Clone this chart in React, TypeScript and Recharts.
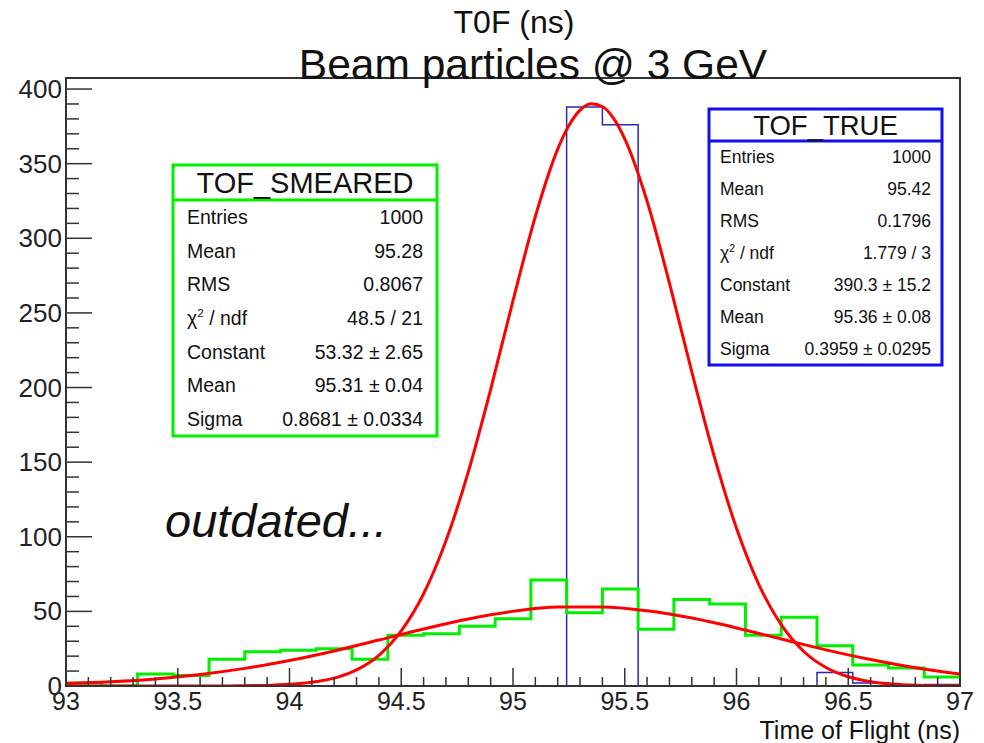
import React from 'react';
import { ComposedChart, Line, XAxis, YAxis, ReferenceArea } from 'recharts';

// histogram binning (25 bins of 0.16 ns)
const binEdges = [
  93, 93.16, 93.32, 93.48, 93.64, 93.8, 93.96, 94.12, 94.28, 94.44, 94.6, 94.76, 94.92,
  95.08, 95.24, 95.4, 95.56, 95.72, 95.88, 96.04, 96.2, 96.36, 96.52, 96.68, 96.84, 97,
];
const smearedCounts = [2, 0, 8, 7, 18, 23, 24, 25, 18, 34, 35, 40, 45, 71, 49, 65, 38, 58, 55, 34, 46, 27, 14, 12, 6];
const trueCounts = [0, 0, 0, 0, 0, 0, 0, 0, 0, 0, 0, 0, 0, 0, 388, 376, 0, 0, 0, 0, 0, 9, 2, 0, 1];

// gaus fit curves
const fitTrueX = [
  93, 93.1, 93.2, 93.3, 93.4, 93.5, 93.6, 93.7, 93.8, 93.9, 94, 94.1, 94.2, 94.3, 94.4, 94.5,
  94.6, 94.7, 94.8, 94.9, 95, 95.1, 95.2, 95.25, 95.3, 95.35, 95.4, 95.45, 95.5, 95.6, 95.7,
  95.8, 95.9, 96, 96.1, 96.2, 96.3, 96.4, 96.5, 96.6, 96.7, 96.8, 96.9, 97,
];
const fitTrueY = [
  0, 0, 0, 0, 0, 0, 0, 0, 0.2, 0.4, 1.1, 2.5, 5.3, 10.8, 20.6, 36.9,
  61.8, 97.3, 143.5, 198.7, 258.2, 314.6, 359.7, 375.5, 385.9, 390.2, 388.3, 380.3, 366.6, 324.8, 269.9,
  210.5, 154.0, 105.7, 68.0, 41.1, 23.3, 12.4, 6.2, 2.9, 1.3, 0.5, 0.2, 0.1,
];
const fitSmearX = [93, 93.2, 93.4, 93.6, 93.8, 94, 94.2, 94.4, 94.6, 94.8, 95, 95.2, 95.4, 95.6, 95.8, 96, 96.2, 96.4, 96.6, 96.8, 97];
const fitSmearY = [1.6, 2.8, 4.7, 7.7, 11.8, 17.1, 23.5, 30.8, 38.2, 44.9, 50.0, 52.9, 53.0, 50.4, 45.5, 38.9, 31.5, 24.2, 17.7, 12.2, 8.0];

const xTicks = [
  93, 93.1, 93.2, 93.3, 93.4, 93.5, 93.6, 93.7, 93.8, 93.9, 94, 94.1, 94.2, 94.3, 94.4, 94.5,
  94.6, 94.7, 94.8, 94.9, 95, 95.1, 95.2, 95.3, 95.4, 95.5, 95.6, 95.7, 95.8, 95.9, 96, 96.1,
  96.2, 96.3, 96.4, 96.5, 96.6, 96.7, 96.8, 96.9, 97,
];
const yTicks = [
  0, 10, 20, 30, 40, 50, 60, 70, 80, 90, 100, 110, 120, 130, 140, 150, 160, 170, 180, 190, 200,
  210, 220, 230, 240, 250, 260, 270, 280, 290, 300, 310, 320, 330, 340, 350, 360, 370, 380, 390, 400,
];
const Y_MAX = 407.4;

const smearedStats = [
  ['Entries', '1000'],
  ['Mean', '95.28'],
  ['RMS', '0.8067'],
  ['chi2', '48.5 / 21'],
  ['Constant', '53.32 ± 2.65'],
  ['Mean', '95.31 ± 0.04'],
  ['Sigma', '0.8681 ± 0.0334'],
];
const trueStats = [
  ['Entries', '1000'],
  ['Mean', '95.42'],
  ['RMS', '0.1796'],
  ['chi2', '1.779 / 3'],
  ['Constant', '390.3 ± 15.2'],
  ['Mean', '95.36 ± 0.08'],
  ['Sigma', '0.3959 ± 0.0295'],
];

const FONT = '"Liberation Sans", Arial, Helvetica, sans-serif';

const toSteps = (counts: number[]) =>
  binEdges.map((x, i) => ({ x, y: counts[Math.min(i, counts.length - 1)] }));
const toPoints = (xs: number[], ys: number[]) => xs.map((x, i) => ({ x, y: ys[i] }));

const smearedHist = toSteps(smearedCounts);
const trueHist = toSteps(trueCounts);
const trueFit = toPoints(fitTrueX, fitTrueY);
const smearFit = toPoints(fitSmearX, fitSmearY);

const XTick = (props: any) => {
  const { x, y, payload } = props;
  const v = payload.value as number;
  const major = Math.abs(v * 2 - Math.round(v * 2)) < 1e-6;
  return (
    <g>
      <line x1={x} x2={x} y1={y} y2={y - (major ? 18 : 9)} stroke="#333" strokeWidth={1.5} />
      {major && (
        <text x={x} y={y + 24} textAnchor="middle" fontSize={25} fill="#222" fontFamily={FONT}>
          {String(Number(v.toFixed(1)))}
        </text>
      )}
    </g>
  );
};

const YTick = (props: any) => {
  const { x, y, payload } = props;
  const v = payload.value as number;
  const major = v % 50 === 0;
  return (
    <g>
      <line x1={x} x2={x + (major ? 26 : 13)} y1={y} y2={y} stroke="#333" strokeWidth={1.5} />
      {major && (
        <text x={x - 4} y={y + 9} textAnchor="end" fontSize={26} fill="#222" fontFamily={FONT}>
          {v}
        </text>
      )}
    </g>
  );
};

interface StatBoxProps {
  x: number;
  y: number;
  w: number;
  h: number;
  head: number;
  title: string;
  titleSize: number;
  rows: string[][];
  size: number;
  color: string;
  pad: number;
}

const StatBox = ({ x, y, w, h, head, title, titleSize, rows, size, color, pad }: StatBoxProps) => {
  const rowH = (h - head) / rows.length;
  return (
    <g fontFamily={FONT} fill="#111">
      <rect x={x} y={y} width={w} height={h} fill="#fff" stroke={color} strokeWidth={3} />
      <line x1={x} x2={x + w} y1={y + head} y2={y + head} stroke={color} strokeWidth={3} />
      <text x={x + w / 2} y={y + head / 2 + titleSize * 0.36} textAnchor="middle" fontSize={titleSize}>
        {title}
      </text>
      {rows.map(([label, value], i) => {
        const cy = y + head + rowH * (i + 0.5) + size * 0.36;
        return (
          <g key={i}>
            {label === 'chi2' ? (
              <text x={x + pad} y={cy} fontSize={size}>
                χ<tspan dy={-size * 0.4} fontSize={size * 0.6}>2</tspan>
                <tspan dy={size * 0.4}> / ndf</tspan>
              </text>
            ) : (
              <text x={x + pad} y={cy} fontSize={size}>{label}</text>
            )}
            <text x={x + w - pad} y={cy} fontSize={size} textAnchor="end">{value}</text>
          </g>
        );
      })}
    </g>
  );
};

export default function App() {
  return (
    <div style={{ position: 'absolute', left: 0, top: 0, width: 984, height: 743, background: '#fff' }}>
      <ComposedChart width={984} height={743} margin={{ top: 78, right: 24, bottom: 56, left: 65 }}>
        <XAxis
          type="number"
          dataKey="x"
          domain={[93, 97]}
          ticks={xTicks}
          interval={0}
          tickSize={0}
          tickMargin={0}
          tickLine={false}
          tick={<XTick />}
          height={1}
          allowDataOverflow
          axisLine={{ stroke: '#333', strokeWidth: 2 }}
        />
        <YAxis
          type="number"
          dataKey="y"
          domain={[0, Y_MAX]}
          ticks={yTicks}
          interval={0}
          tickSize={0}
          tickMargin={0}
          tickLine={false}
          tick={<YTick />}
          width={1}
          allowDataOverflow
          axisLine={{ stroke: '#333', strokeWidth: 2 }}
        />
        <ReferenceArea x1={93} x2={97} y1={0} y2={Y_MAX} fill="none" stroke="#333" strokeWidth={2} />
        <Line data={trueHist} dataKey="y" type="stepAfter" stroke="#2a2ab4" strokeWidth={1.5} dot={false} activeDot={false} isAnimationActive={false} />
        <Line data={smearedHist} dataKey="y" type="stepAfter" stroke="#00f000" strokeWidth={3} dot={false} activeDot={false} isAnimationActive={false} />
        <Line data={trueFit} dataKey="y" type="monotone" stroke="#ff0000" strokeWidth={3} dot={false} activeDot={false} isAnimationActive={false} />
        <Line data={smearFit} dataKey="y" type="monotone" stroke="#ff0000" strokeWidth={3} dot={false} activeDot={false} isAnimationActive={false} />
      </ComposedChart>
      <svg width={984} height={743} style={{ position: 'absolute', left: 0, top: 0, pointerEvents: 'none' }}>
        <g fontFamily={FONT} fill="#111">
          <text x={514} y={33} textAnchor="middle" fontSize={32}>T0F (ns)</text>
          <text x={533} y={79} textAnchor="middle" fontSize={42.5}>Beam particles @ 3 GeV</text>
          <text x={165} y={537} fontSize={47} fontStyle="italic">outdated...</text>
          <text x={960} y={739} textAnchor="end" fontSize={25}>Time of Flight (ns)</text>
        </g>
        <StatBox x={173} y={165} w={264} h={271} head={35} title="TOF_SMEARED" titleSize={29}
          rows={smearedStats} size={19.5} color="#00f000" pad={14} />
        <StatBox x={709} y={109} w={233} h={256} head={32} title="TOF_TRUE" titleSize={27.5}
          rows={trueStats} size={17.5} color="#1010ee" pad={11} />
      </svg>
    </div>
  );
}
